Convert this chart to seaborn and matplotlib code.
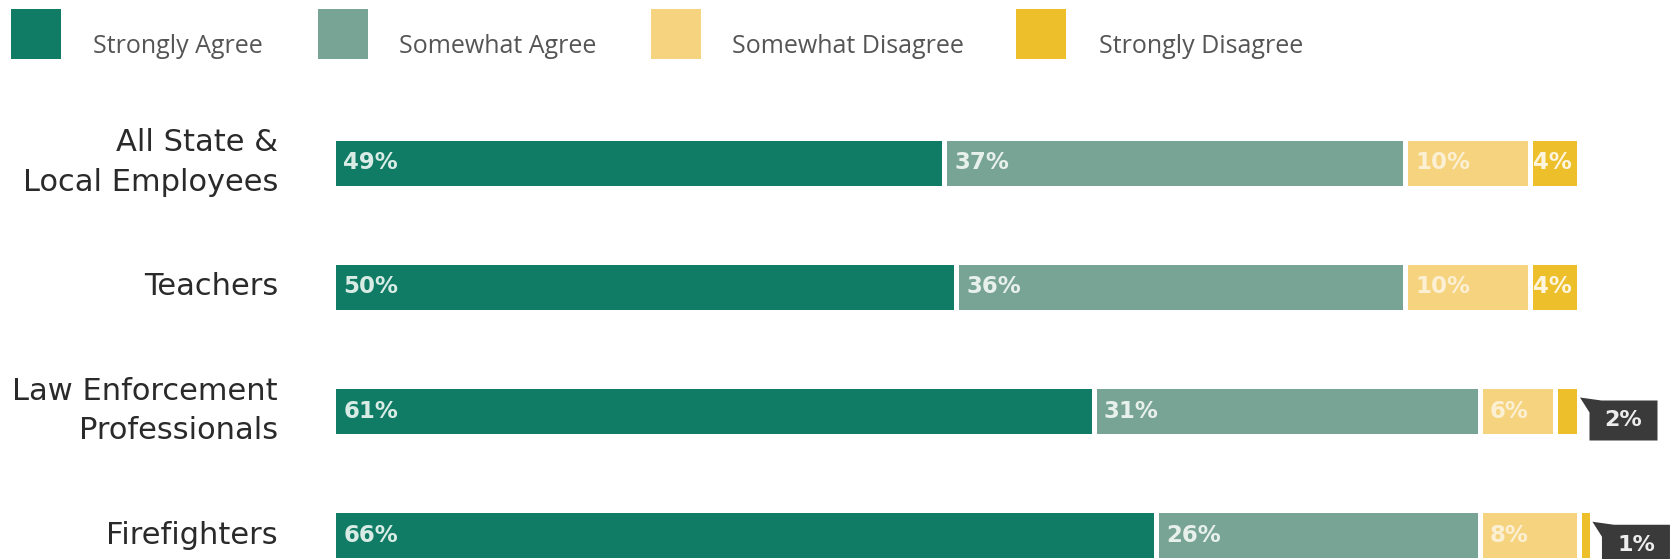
import matplotlib
matplotlib.use("Agg")
import matplotlib.pyplot as plt
from matplotlib.patches import Rectangle, Polygon
from matplotlib.transforms import IdentityTransform
import numpy as np
import pandas as pd
import seaborn as sns

# ---- data -------------------------------------------------------------
groups = [
    "All State &\nLocal Employees",
    "Teachers",
    "Law Enforcement\nProfessionals",
    "Firefighters",
]
responses = ["Strongly Agree", "Somewhat Agree", "Somewhat Disagree", "Strongly Disagree"]
strongly_agree = [49, 50, 61, 66]
somewhat_agree = [37, 36, 31, 26]
somewhat_disagree = [10, 10, 6, 8]
strongly_disagree = [4, 4, 2, 1]

colors = ["#117c66", "#78a496", "#f6d37f", "#ecbf2b"]
label_colors = ["#d8ece5", "#e8f0ec", "#fcf0d4", "#fdf5de"]

# ---- figure -----------------------------------------------------------
sns.set_theme(style="white")
plt.rcParams["font.family"] = ["DejaVu Sans"]

W, H = 1674, 559
fig = plt.figure(figsize=(W / 100, H / 100), dpi=100, facecolor="white")

x0_px = 333.5          # pixel position of 0 %
px_per_pct = 12.46
row_gap_px = 124.25
row0_px = 162.5         # centre of the first row, from the top
ax_top_px = 100

ax_left = x0_px / W
ax_width = 1 - ax_left
ax_height = (H - ax_top_px) / H
ax = fig.add_axes([ax_left, 0, ax_width, ax_height])

series = [strongly_agree, somewhat_agree, somewhat_disagree, strongly_disagree]
cum = np.cumsum(np.array(series), axis=0)   # running totals per response
df = pd.DataFrame({"group": groups})
for i, name in enumerate(responses):
    df[name] = cum[i]

bar_h = 50 / row_gap_px
# draw cumulative totals from the longest down, each layer covering the previous
for i in reversed(range(len(responses))):
    sns.barplot(
        data=df, y="group", x=responses[i], order=groups, orient="h",
        color=colors[i], saturation=1, width=bar_h, errorbar=None,
        edgecolor="white", linewidth=3.6, ax=ax,
    )

ax.set_xlim(0, (W - x0_px) / px_per_pct)
ax.set_ylim((H - row0_px) / row_gap_px, (ax_top_px - row0_px) / row_gap_px)
ax.set_xlabel("")
ax.set_ylabel("")
ax.set_xticks([])
ax.set_yticks(range(len(groups)))
ax.set_yticklabels(groups, fontsize=22, color="#2a2a2a")
for lbl in ax.get_yticklabels():
    lbl.set_va("center")
    lbl.set_linespacing(1.45)
ax.tick_params(axis="y", length=0, pad=40)
for s in ax.spines.values():
    s.set_visible(False)
ax.set_facecolor("white")

# ---- segment value labels ----------------------------------------------
for r in range(len(groups)):
    for i in range(len(responses)):
        val = series[i][r]
        start = cum[i][r] - val
        if i == 3 and val < 3:
            continue
        pad = 3 if i == 3 else 10
        ax.annotate(
            f"{val}%", xy=(start, r), xytext=(pad * 0.72, 0),
            textcoords="offset points", ha="left", va="center",
            fontsize=16.5, fontweight="bold", color=label_colors[i],
        )

# ---- callouts for the thin last segments --------------------------------
ident = IdentityTransform()
for r in range(len(groups)):
    val = strongly_disagree[r]
    if val >= 3:
        continue
    bx, by = ax.transData.transform((cum[3][r], r))
    bar_top = by + 22.5
    left = bx + 10
    right = left + 68
    top = bar_top - 12
    bottom = top - 40
    tip = (bx + 0.5, bar_top - 9)
    poly = Polygon(
        [tip, (left + 12, top), (right, top), (right, bottom), (left, bottom), (left, top - 12)],
        closed=True, facecolor="#3a3a3a", edgecolor="none",
        transform=ident, clip_on=False,
    )
    fig.add_artist(poly)
    fig.text((left + right) / 2, (top + bottom) / 2, f"{val}%", transform=ident,
             ha="center", va="center", fontsize=16, fontweight="bold", color="#ededed")

# ---- legend -------------------------------------------------------------
legend_square_x = [11, 318, 651, 1016]
legend_text_x = [93, 399, 732, 1099]
for i, name in enumerate(responses):
    fig.add_artist(Rectangle((legend_square_x[i], H - 59), 50, 50, transform=ident,
                             facecolor=colors[i], edgecolor="none"))
    fig.text(legend_text_x[i], H - 53, name, transform=ident, ha="left", va="baseline",
             fontsize=18, color="#555555", family=["Open Sans", "DejaVu Sans"])

fig.savefig("out.png", dpi=100, facecolor="white")
